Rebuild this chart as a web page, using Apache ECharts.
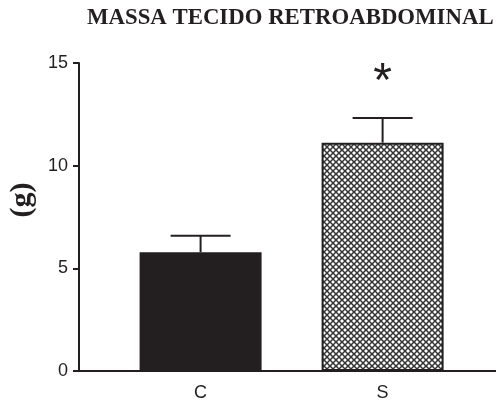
<!DOCTYPE html>
<html>
<head>
<meta charset="utf-8">
<script src="https://cdn.jsdelivr.net/npm/echarts@6/dist/echarts.min.js"></script>
<style>
html,body{margin:0;padding:0;background:#fff;}
#chart{width:496px;height:405px;}
</style>
</head>
<body>
<div id="chart"></div>
<script>
// ---- data ----
var categories = ['C', 'S'];
var categoryPos = [1, 2];
var means = [5.78, 11.12];
var sem = [0.81, 1.2];
var significance = ['', '*'];
var yTicks = [0, 5, 10, 15];

var ink = '#231f20';

// cross-hatch pattern
var tile = document.createElement('canvas');
tile.width = 6; tile.height = 6;
var g = tile.getContext('2d');
g.fillStyle = '#ffffff';
g.fillRect(0, 0, 6, 6);
g.strokeStyle = '#333333';
g.lineWidth = 1.5;
g.beginPath();
g.moveTo(-1, -1); g.lineTo(7, 7);
g.moveTo(7, -1); g.lineTo(-1, 7);
g.stroke();

var barData = categories.map(function (c, i) {
  var item = { value: [categoryPos[i], means[i]] };
  if (i === 0) {
    item.itemStyle = { color: ink, borderColor: ink, borderWidth: 0 };
  } else {
    item.itemStyle = { color: { image: tile, repetition: 'repeat' }, borderColor: ink, borderWidth: 2 };
  }
  return item;
});

var errData = categories.map(function (c, i) {
  return [categoryPos[i], means[i], sem[i], i];
});

var chart = echarts.init(document.getElementById('chart'), null, { renderer: 'canvas' });
chart.setOption({
  animation: false,
  backgroundColor: '#ffffff',
  title: {
    text: 'MASSA TECIDO RETROABDOMINAL',
    left: 87,
    top: 7,
    padding: 0,
    textStyle: { fontFamily: 'Liberation Serif', fontWeight: 'bold', fontSize: 22.8, color: ink }
  },
  grid: { left: 79, right: 0, top: 63, bottom: 34, outerBoundsMode: 'none', containLabel: false },
  xAxis: {
    type: 'value',
    min: 0.332,
    max: 2.623,
    axisLine: { show: true, onZero: false, lineStyle: { color: ink, width: 2 } },
    axisTick: { show: false },
    splitLine: { show: false },
    axisLabel: {
      customValues: categoryPos,
      formatter: function (v) {
        var k = categoryPos.indexOf(Math.round(v));
        return k >= 0 ? categories[k] : '';
      },
      fontFamily: 'Liberation Sans',
      fontSize: 18,
      color: ink,
      margin: 13
    }
  },
  yAxis: {
    type: 'value',
    min: 0,
    max: 15,
    interval: 5,
    name: '(g)',
    nameLocation: 'middle',
    nameRotate: 90,
    nameGap: 38,
    nameTextStyle: { fontFamily: 'Liberation Serif', fontWeight: 'bold', fontSize: 30, color: ink, padding: [0, 0, 0, 34] },
    axisLine: { show: true, lineStyle: { color: ink, width: 2 } },
    axisTick: { show: true, length: 6, lineStyle: { color: ink, width: 2 } },
    splitLine: { show: false },
    axisLabel: {
      fontFamily: 'Liberation Sans',
      fontSize: 18,
      color: ink,
      margin: 11,
      formatter: function (v) { return yTicks.indexOf(v) >= 0 ? String(v) : ''; }
    }
  },
  series: [
    {
      type: 'bar',
      barWidth: 122,
      data: barData,
      z: 2
    },
    {
      type: 'custom',
      z: 3,
      data: errData,
      renderItem: function (params, api) {
        var x = api.value(0), y = api.value(1), e = api.value(2), idx = api.value(3);
        var p0 = api.coord([x, y]);
        var p1 = api.coord([x, y + e]);
        var half = 30;
        var children = [
          { type: 'line', shape: { x1: p0[0], y1: p0[1], x2: p1[0], y2: p1[1] }, style: { stroke: ink, lineWidth: 2 } },
          { type: 'line', shape: { x1: p1[0] - half, y1: p1[1], x2: p1[0] + half, y2: p1[1] }, style: { stroke: ink, lineWidth: 2 } }
        ];
        if (significance[idx]) {
          children.push({
            type: 'text',
            style: {
              text: significance[idx],
              x: p1[0],
              y: p1[1] - 35,
              align: 'center',
              verticalAlign: 'middle',
              fontFamily: 'Liberation Sans',
              fontSize: 48,
              fill: ink
            }
          });
        }
        return { type: 'group', children: children };
      }
    }
  ]
});
</script>
</body>
</html>
